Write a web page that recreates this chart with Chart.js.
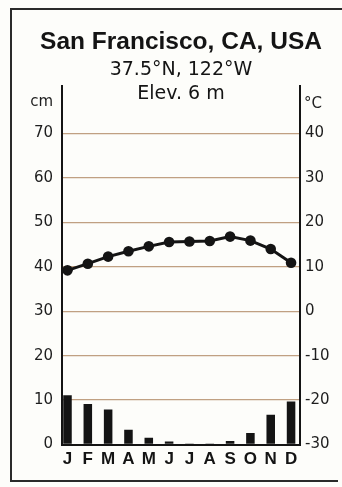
<!DOCTYPE html>
<html>
<head>
<meta charset="utf-8">
<script src="https://cdn.jsdelivr.net/npm/chart.js@4.4.1/dist/chart.umd.min.js"></script>
<style>
  html, body { margin: 0; padding: 0; background: #fdfdfa; }
  #wrap { width: 342px; height: 487px; }
  canvas { display: block; }
</style>
</head>
<body>
<div id="wrap"><canvas id="climo" width="342" height="487"></canvas></div>
<script>
// Climate diagram: monthly precipitation (bars, cm) and mean temperature (line, °C)
const months = ['J', 'F', 'M', 'A', 'M', 'J', 'J', 'A', 'S', 'O', 'N', 'D'];
const precipCm = [11.1, 9.1, 7.9, 3.3, 1.5, 0.7, 0.2, 0.2, 0.8, 2.6, 6.7, 9.7];
const tempC = [9.2, 10.7, 12.3, 13.5, 14.6, 15.6, 15.7, 15.8, 16.8, 15.9, 14.0, 10.9];
const cmTicks = [0, 10, 20, 30, 40, 50, 60, 70];
const degTicks = [-30, -20, -10, 0, 10, 20, 30, 40];
const titleText = 'San Francisco, CA, USA';
const coordText = '37.5°N, 122°W';
const elevText = 'Elev. 6 m';

const INK = '#141414';
const LABEL = '#1e1e1e';
const GRID = 'rgba(165, 120, 78, 0.7)';
const TICK_FONT = { family: 'DejaVu Sans', size: 15 };

const decorations = {
  id: 'decorations',
  beforeDraw(chart) {
    const ctx = chart.ctx;
    ctx.save();
    ctx.fillStyle = '#fdfdfa';
    ctx.fillRect(0, 0, chart.width, chart.height);
    ctx.restore();
  },
  afterDraw(chart) {
    const ctx = chart.ctx;
    const area = chart.chartArea;
    const cx = (area.left + area.right) / 2;
    ctx.save();
    // frame
    ctx.strokeStyle = '#2a2a2a';
    ctx.lineWidth = 2;
    ctx.beginPath();
    ctx.moveTo(342, 9);
    ctx.lineTo(11, 9);
    ctx.lineTo(11, 481);
    ctx.lineTo(338, 481);
    ctx.stroke();
    // headings
    ctx.fillStyle = INK;
    ctx.textAlign = 'center';
    ctx.textBaseline = 'alphabetic';
    ctx.font = 'bold 24.5px "Liberation Sans"';
    ctx.fillText(titleText, cx, 49);
    ctx.font = '19px "DejaVu Sans"';
    ctx.fillText(coordText, cx, 75);
    ctx.fillText(elevText, cx, 99);
    // axis units
    ctx.fillStyle = LABEL;
    ctx.font = '15px "DejaVu Sans"';
    ctx.textBaseline = 'middle';
    ctx.textAlign = 'right';
    ctx.fillText('cm', area.left - 9, 102);
    ctx.textAlign = 'left';
    ctx.fillText('°C', area.right + 4, 104);
    ctx.restore();
  }
};

new Chart(document.getElementById('climo'), {
  type: 'bar',
  data: {
    datasets: [
      {
        type: 'line',
        label: 'Temperature (°C)',
        data: tempC.map((v, i) => ({ x: i, y: v })),
        yAxisID: 'y1',
        borderColor: INK,
        borderWidth: 3,
        pointRadius: 5.3,
        pointBackgroundColor: INK,
        pointBorderWidth: 0,
        tension: 0,
        order: 1
      },
      {
        type: 'bar',
        label: 'Precipitation (cm)',
        data: precipCm.map((v, i) => ({ x: i, y: v })),
        yAxisID: 'y',
        backgroundColor: INK,
        barPercentage: 0.42,
        categoryPercentage: 1,
        order: 2
      }
    ]
  },
  options: {
    responsive: false,
    animation: false,
    devicePixelRatio: 1,
    layout: { padding: { top: 86, left: 0, right: 0, bottom: 0 } },
    plugins: { legend: { display: false }, tooltip: { enabled: false }, title: { display: false } },
    scales: {
      x: {
        type: 'linear',
        min: -0.27,
        max: 11.44,
        offset: false,
        afterBuildTicks: s => { s.ticks = months.map((m, i) => ({ value: i })); },
        afterFit: s => { s.height = 42.5; },
        grid: { display: false, drawTicks: false },
        border: { display: true, color: INK, width: 2 },
        ticks: {
          autoSkip: false,
          maxRotation: 0,
          padding: 5,
          color: INK,
          font: { family: 'Liberation Sans', size: 17, weight: 'bold' },
          callback: v => months[v] ?? ''
        }
      },
      y: {
        position: 'left',
        min: 0,
        max: 80.7,
        afterBuildTicks: s => { s.ticks = cmTicks.map(v => ({ value: v })); },
        afterFit: s => { s.width = 62; },
        grid: { color: GRID, lineWidth: 1.3, drawTicks: false },
        border: { color: INK, width: 2 },
        ticks: { padding: 9, color: LABEL, font: TICK_FONT }
      },
      y1: {
        position: 'right',
        min: -30,
        max: 50.7,
        afterBuildTicks: s => { s.ticks = degTicks.map(v => ({ value: v })); },
        afterFit: s => { s.width = 42; },
        grid: { display: false, drawTicks: false },
        border: { color: INK, width: 2 },
        ticks: { padding: 5, color: LABEL, font: TICK_FONT }
      }
    }
  },
  plugins: [decorations]
});
</script>
</body>
</html>
